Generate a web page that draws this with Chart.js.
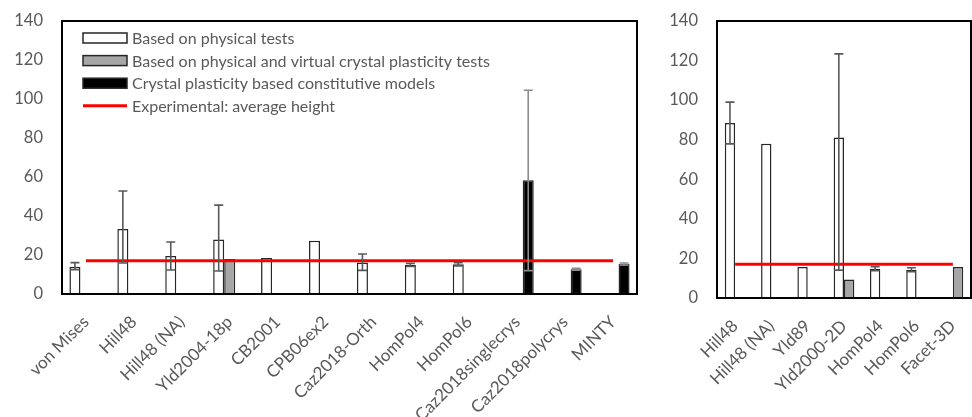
<!DOCTYPE html>
<html>
<head>
<meta charset="utf-8">
<script src="https://cdn.jsdelivr.net/npm/chart.js@4/dist/chart.umd.min.js"></script>
<style>
  body { margin: 0; background: #fff; }
  #wrap { position: relative; width: 972px; height: 417px; }
  canvas { position: absolute; top: 0; }
</style>
</head>
<body>
<div id="wrap">
  <canvas id="leftChart" width="641" height="417" style="left:0px"></canvas>
  <canvas id="rightChart" width="322" height="417" style="left:650px"></canvas>
</div>
<script>
// ---- data (left panel) ----
const leftLabels = ["von Mises", "Hill48", "Hill48 (NA)", "Yld2004-18p", "CB2001", "CPB06ex2",
  "Caz2018-Orth", "HomPol4", "HomPol6", "Caz2018singlecrys", "Caz2018polycrys", "MINTY"];
const leftPhysical = [14, 33.3, 19.5, 28, 18.5, 27.3, 16.2, 14.9, 15.2, null, null, null];
const leftPhysicalUp = [2.1, 19.5, 7.2, 17.6, null, null, 4.3, 0.8, 0.8, null, null, null];
const leftPhysicalDown = [1.5, 17.4, 7.2, 16.2, null, null, 4.1, 0.8, 0.8, null, null, null];
const leftVirtual = [null, null, null, 18, null, null, null, null, null, null, null, null];
const leftCrystal = [null, null, null, null, null, null, null, null, null, 58.3, 12.7, 15.4];
const leftCrystalUp = [null, null, null, null, null, null, null, null, null, 46.2, 0.5, 0.5];
const leftCrystalDown = [null, null, null, null, null, null, null, null, null, 46.3, 0.5, 0.5];

// ---- data (right panel) ----
const rightLabels = ["Hill48", "Hill48 (NA)", "Yld89", "Yld2000-2D", "HomPol4", "HomPol6", "Facet-3D"];
const rightPhysical = [88.4, 78, 15.7, 81.1, 14.8, 14.3, null];
const rightPhysicalUp = [10.6, null, null, 42.3, 1, 1, null];
const rightPhysicalDown = [10.5, null, null, 67, 1, 1, null];
const rightVirtual = [null, null, null, 9.4, null, null, 15.7];

const experimentalAvg = 17;
const yTicks = [0, 20, 40, 60, 80, 100, 120, 140];

const seriesNames = ["Based on physical tests",
  "Based on physical and virtual crystal plasticity tests",
  "Crystal plasticity based constitutive models",
  "Experimental: average height"];

const FONT = "Lato";
const TXT = "#595959";

const errorBars = {
  id: "errorBars",
  afterDatasetsDraw(chart) {
    const ctx = chart.ctx;
    const y = chart.scales.y;
    chart.data.datasets.forEach((ds, di) => {
      if (!ds.errUp) return;
      const meta = chart.getDatasetMeta(di);
      ctx.save();
      ctx.strokeStyle = ds.errColor;
      ctx.lineWidth = 1.6;
      meta.data.forEach((bar, i) => {
        const v = ds.data[i];
        if (v == null || ds.errUp[i] == null) return;
        const top = y.getPixelForValue(v + ds.errUp[i]);
        const bot = y.getPixelForValue(v - ds.errDown[i]);
        ctx.beginPath();
        ctx.moveTo(bar.x, top); ctx.lineTo(bar.x, bot);
        ctx.moveTo(bar.x - 4.5, top); ctx.lineTo(bar.x + 4.5, top);
        ctx.moveTo(bar.x - 4.5, bot); ctx.lineTo(bar.x + 4.5, bot);
        ctx.stroke();
      });
      ctx.restore();
    });
  }
};

const frame = {
  id: "frame",
  afterDraw(chart) {
    const a = chart.chartArea;
    const ctx = chart.ctx;
    ctx.save();
    ctx.strokeStyle = "#000";
    ctx.lineWidth = 2;
    ctx.strokeRect(a.left, a.top, a.right - a.left, a.bottom - a.top);
    ctx.restore();
  }
};

// legend drawn inside the plot, top left
const boxLegend = {
  id: "boxLegend",
  afterDraw(chart) {
    const ctx = chart.ctx;
    const x0 = 83, w = 44, h = 10;
    ctx.save();
    ctx.font = "16px " + FONT;
    ctx.textBaseline = "middle";
    chart.data.datasets.forEach((ds, i) => {
      const cy = 38 + i * 22.6;
      if (ds.type === "line") {
        ctx.strokeStyle = ds.borderColor;
        ctx.lineWidth = 3;
        ctx.beginPath();
        ctx.moveTo(x0, cy); ctx.lineTo(x0 + w, cy);
        ctx.stroke();
      } else {
        ctx.fillStyle = ds.backgroundColor;
        ctx.fillRect(x0, cy - h / 2, w, h);
        ctx.strokeStyle = "#262626";
        ctx.lineWidth = 1.5;
        ctx.strokeRect(x0, cy - h / 2, w, h);
      }
      ctx.fillStyle = TXT;
      ctx.fillText(ds.label, x0 + w + 5, cy + 1);
    });
    ctx.restore();
  }
};

function barSet(label, data, color, up, down, errColor) {
  return {
    label: label,
    data: data,
    backgroundColor: color,
    borderColor: "#262626",
    borderWidth: 1.5,
    barPercentage: 1,
    order: 1,
    errUp: up,
    errDown: down,
    errColor: errColor
  };
}

function lineSet(n) {
  return {
    type: "line",
    label: seriesNames[3],
    data: new Array(n).fill(experimentalAvg),
    borderColor: "#ff0000",
    borderWidth: 3,
    pointRadius: 0,
    order: 0
  };
}

function makeOptions(yWidth, xHeight, catPct, padRight) {
  return {
    responsive: false,
    animation: false,
    layout: { padding: { top: 21, right: padRight, left: 0, bottom: 0 } },
    datasets: { bar: { categoryPercentage: catPct } },
    plugins: { legend: { display: false }, tooltip: { enabled: false } },
    scales: {
      x: {
        grid: { display: false, drawTicks: false },
        border: { display: false },
        ticks: {
          autoSkip: false, minRotation: 45, maxRotation: 45, padding: 18,
          color: TXT, font: { family: FONT, size: 17 }
        },
        afterFit(s) {
          s.height = xHeight;
          s.paddingLeft = 0;
          s.paddingRight = 0;
        }
      },
      y: {
        min: 0, max: 140,
        grid: { display: false, drawTicks: false },
        border: { display: false },
        afterBuildTicks(s) { s.ticks = yTicks.map(v => ({ value: v })); },
        ticks: { padding: 19, color: TXT, font: { family: FONT, size: 16.5 } },
        afterFit(s) {
          s.width = yWidth;
          s.paddingTop = 0;
          s.paddingBottom = 0;
        }
      }
    }
  };
}

new Chart(document.getElementById("leftChart"), {
  type: "bar",
  data: {
    labels: leftLabels,
    datasets: [
      barSet(seriesNames[0], leftPhysical, "#ffffff", leftPhysicalUp, leftPhysicalDown, "#595959"),
      barSet(seriesNames[1], leftVirtual, "#a6a6a6", null, null, "#595959"),
      barSet(seriesNames[2], leftCrystal, "#000000", leftCrystalUp, leftCrystalDown, "#8c8c8c"),
      lineSet(leftLabels.length)
    ]
  },
  options: makeOptions(62, 123, 0.69, 4),
  plugins: [errorBars, frame, boxLegend]
});

new Chart(document.getElementById("rightChart"), {
  type: "bar",
  data: {
    labels: rightLabels,
    datasets: [
      barSet(seriesNames[0], rightPhysical, "#ffffff", rightPhysicalUp, rightPhysicalDown, "#595959"),
      barSet(seriesNames[1], rightVirtual, "#a6a6a6", null, null, "#595959"),
      lineSet(rightLabels.length)
    ]
  },
  options: makeOptions(67, 119, 0.57, 1),
  plugins: [errorBars, frame]
});
</script>
</body>
</html>
